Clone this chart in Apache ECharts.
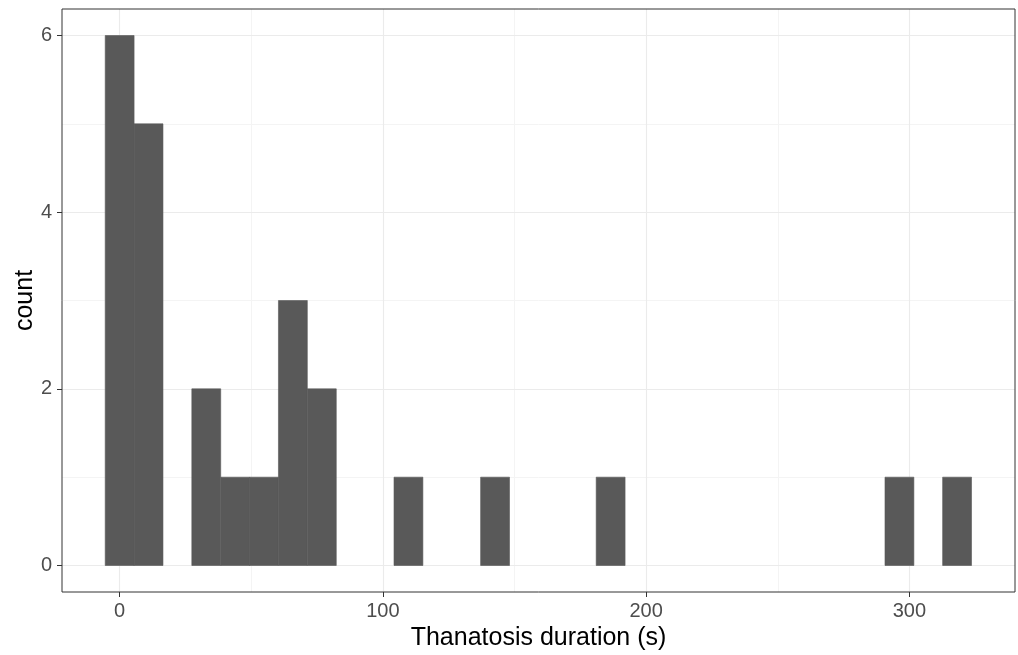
<!DOCTYPE html>
<html><head><meta charset="utf-8">
<script src="https://cdn.jsdelivr.net/npm/echarts@6/dist/echarts.min.js"></script>
<style>html,body{margin:0;padding:0;background:#fff}#c{width:1018px;height:655px}</style>
</head><body><div id="c"></div><script>
// Histogram bins (non-empty), centre of each bin in seconds
const binCenters = [0, 10.97, 32.9, 43.9, 54.8, 65.8, 76.8, 109.7, 142.6, 186.5, 296.2, 318.1];
const counts     = [6, 5, 2, 1, 1, 3, 2, 1, 1, 1, 1, 1];
const binWidth = 10.97;
const xTicks = [0, 100, 200, 300];
const xMinor = [50, 150, 250];
const yTicks = [0, 2, 4, 6];
const yMinor = [1, 3, 5];
const xTitle = 'Thanatosis duration (s)';
const yTitle = 'count';

const FONT = 'Liberation Sans, Arial, sans-serif';
const data = binCenters.map((c, i) => [c, counts[i]]);

const gridLines = [];
xMinor.forEach(v => gridLines.push({xAxis: v, lineStyle: {color: '#f4f4f4', width: 1, type: 'solid'}}));
yMinor.forEach(v => gridLines.push({yAxis: v, lineStyle: {color: '#f4f4f4', width: 1, type: 'solid'}}));
xTicks.forEach(v => gridLines.push({xAxis: v, lineStyle: {color: '#ebebeb', width: 1.1, type: 'solid'}}));
yTicks.forEach(v => gridLines.push({yAxis: v, lineStyle: {color: '#ebebeb', width: 1.1, type: 'solid'}}));

const chart = echarts.init(document.getElementById('c'), null, {renderer: 'canvas'});
chart.setOption({
  animation: false,
  backgroundColor: '#fff',
  textStyle: {fontFamily: FONT},
  grid: {left: 62, top: 9, right: 3, bottom: 63, outerBoundsMode: 'none', containLabel: false,
         show: true, borderColor: '#333', borderWidth: 1, backgroundColor: 'transparent', z: 10},
  xAxis: {
    type: 'value', min: -21.9, max: 340.1,
    axisLine: {show: false, onZero: false},
    axisTick: {show: true, length: 5, lineStyle: {color: '#333', width: 1}, customValues: xTicks},
    axisLabel: {color: '#4d4d4d', fontSize: 20, fontFamily: FONT, margin: 9, customValues: xTicks},
    splitLine: {show: false},
    name: xTitle, nameLocation: 'middle', nameGap: 31,
    nameTextStyle: {color: '#000', fontSize: 25, fontFamily: FONT}
  },
  yAxis: {
    type: 'value', min: -0.3, max: 6.3,
    axisLine: {show: false, onZero: false},
    axisTick: {show: true, length: 5, lineStyle: {color: '#333', width: 1}, customValues: yTicks},
    axisLabel: {color: '#4d4d4d', fontSize: 20, fontFamily: FONT, margin: 10, customValues: yTicks},
    splitLine: {show: false},
    name: yTitle, nameLocation: 'middle', nameGap: 24, nameRotate: 90, nameMoveOverlap: false,
    nameTextStyle: {color: '#000', fontSize: 25, fontFamily: FONT}
  },
  series: [
    {
      type: 'line', data: [[0, 0]], symbol: 'none', lineStyle: {opacity: 0}, silent: true, z: 1,
      markLine: {silent: true, z: 0, zlevel: 0, symbol: 'none', label: {show: false}, animation: false, data: gridLines}
    },
    {
      type: 'custom', z: 3,
      data: data,
      encode: {x: 0, y: 1},
      renderItem: function (params, api) {
        const c = api.value(0), n = api.value(1);
        const p0 = api.coord([c - binWidth / 2, n]);
        const p1 = api.coord([c + binWidth / 2, 0]);
        return {type: 'rect', shape: {x: p0[0], y: p0[1], width: p1[0] - p0[0], height: p1[1] - p0[1]},
                style: {fill: '#595959', stroke: '#595959', lineWidth: 0.6}};
      }
    }
  ]
});
</script></body></html>
